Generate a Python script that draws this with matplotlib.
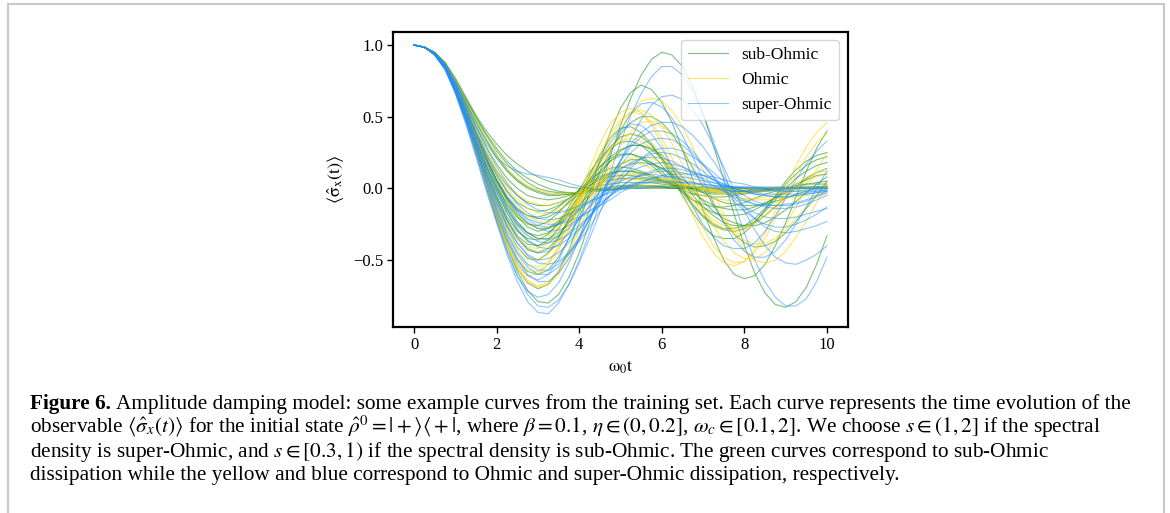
import matplotlib
matplotlib.use('Agg')
import matplotlib.pyplot as plt
from matplotlib.patches import Rectangle

# ---------------- data ----------------
t = [0, 0.25, 0.5, 0.75, 1, 1.25, 1.5, 1.75, 2, 2.25, 2.5, 2.75, 3, 3.25, 3.5, 3.75,
     4, 4.25, 4.5, 4.75, 5, 5.25, 5.5, 5.75, 6, 6.25, 6.5, 6.75, 7, 7.25, 7.5, 7.75,
     8, 8.25, 8.5, 8.75, 9, 9.25, 9.5, 9.75, 10]

# ---- sub-Ohmic (green) ----
sub_01 = [1, .985, .935, .84, .68, .48, .26, .03,
          -.20, -.40, -.58, -.71, -.79, -.80, -.74, -.62,
          -.45, -.24, -.01, .22, .44, .63, .79, .90,
          .95, .93, .85, .71, .52, .30, .06, -.18,
          -.40, -.59, -.73, -.81, -.83, -.79, -.69, -.53,
          -.33]
sub_02 = [1, .985, .935, .84, .68, .48, .26, .03,
          -.20, -.40, -.56, -.66, -.70, -.67, -.58, -.43,
          -.24, -.03, .19, .39, .56, .67, .72, .69,
          .60, .46, .27, .06, -.15, -.34, -.50, -.60,
          -.63, -.61, -.53, -.40, -.24, -.06, .12, .28,
          .40]
sub_03 = [1, .985, .94, .85, .70, .52, .31, .10,
          -.10, -.27, -.41, -.49, -.50, -.45, -.35, -.21,
          -.06, .09, .23, .35, .42, .43, .39, .31,
          .20, .08, -.05, -.17, -.27, -.33, -.35, -.35,
          -.31, -.24, -.15, -.05, .05, .13, .19, .23,
          .25]
sub_04 = [1, .985, .94, .85, .71, .53, .33, .13,
          -.06, -.22, -.35, -.43, -.45, -.42, -.34, -.22,
          -.09, .05, .18, .29, .36, .38, .36, .30,
          .21, .10, -.01, -.11, -.19, -.25, -.28, -.28,
          -.26, -.21, -.14, -.06, .03, .10, .16, .20,
          .22]
sub_05 = [1, .985, .94, .855, .72, .55, .36, .16,
          -.02, -.17, -.29, -.37, -.40, -.38, -.33, -.24,
          -.13, -.01, .10, .19, .26, .30, .30, .27,
          .21, .13, .04, -.05, -.13, -.19, -.24, -.26,
          -.26, -.24, -.19, -.13, -.06, .01, .07, .11,
          .14]
sub_06 = [1, .985, .94, .86, .73, .57, .39, .20,
          .03, -.12, -.23, -.31, -.35, -.35, -.31, -.24,
          -.15, -.06, .03, .11, .17, .20, .20, .18,
          .14, .09, .03, -.03, -.08, -.12, -.14, -.15,
          -.15, -.13, -.10, -.07, -.03, .00, .03, .04,
          .05]
sub_07 = [1, .985, .95, .88, .77, .64, .51, .40,
          .31, .23, .17, .12, .08, .05, .03, .01,
          .00, -.01, -.01, -.01, .00, .00, .00, .00,
          0, 0, 0, 0, 0, 0, 0, 0,
          0, 0, 0, 0, 0, 0, 0, 0,
          0]
sub_08 = [1, .985, .945, .87, .75, .62, .49, .37,
          .26, .17, .10, .04, .00, -.02, -.03, -.03,
          -.03, -.02, -.01, .00, .01, .01, .01, .01,
          .01, .00, 0, 0, 0, 0, 0, 0,
          0, 0, 0, 0, 0, 0, 0, 0,
          0]
sub_09 = [1, .985, .945, .865, .74, .60, .46, .33,
          .21, .12, .05, .00, -.03, -.05, -.05, -.04,
          -.03, -.01, .00, .01, .02, .02, .02, .02,
          .02, .01, .01, .01, .00, 0, 0, 0,
          0, 0, 0, 0, 0, 0, 0, 0,
          0]
sub_10 = [1, .985, .945, .86, .73, .58, .43, .29,
          .17, .07, .00, -.05, -.07, -.08, -.07, -.05,
          -.03, .00, .02, .03, .04, .04, .04, .04,
          .03, .02, .02, .01, .00, .00, -.01, -.01,
          -.01, .00, 0, 0, 0, 0, 0, 0,
          0]
sub_11 = [1, .985, .94, .855, .72, .56, .40, .25,
          .12, .02, -.05, -.10, -.12, -.12, -.10, -.07,
          -.03, .01, .04, .06, .07, .07, .07, .06,
          .05, .03, .02, .01, .00, -.01, -.01, -.02,
          -.02, -.01, -.01, .00, 0, 0, 0, 0,
          0]
sub_12 = [1, .985, .94, .85, .71, .54, .36, .19,
          .05, -.07, -.15, -.19, -.20, -.18, -.13, -.07,
          -.01, .04, .08, .11, .12, .12, .10, .08,
          .06, .03, .01, -.01, -.03, -.04, -.04, -.04,
          -.03, -.02, -.01, .00, .00, .00, .00, .01,
          .01]
sub_13 = [1, .985, .94, .85, .71, .53, .34, .16,
          .01, -.11, -.20, -.25, -.26, -.23, -.17, -.09,
          -.01, .06, .11, .14, .15, .14, .12, .09,
          .05, .02, -.01, -.04, -.05, -.06, -.06, -.05,
          -.04, -.03, -.02, -.01, .00, .00, .01, .01,
          .01]
sub_14 = [1, .985, .94, .86, .74, .58, .40, .22,
          .05, -.09, -.20, -.27, -.30, -.28, -.23, -.15,
          -.06, .04, .12, .19, .23, .24, .22, .18,
          .12, .05, -.02, -.08, -.13, -.17, -.19, -.19,
          -.18, -.15, -.11, -.06, -.02, .03, .06, .09,
          .10]
sub_15 = [1, .985, .94, .855, .73, .56, .38, .19,
          .01, -.14, -.25, -.31, -.33, -.31, -.25, -.16,
          -.05, .06, .15, .22, .27, .30, .30, .28,
          .23, .16, .08, -.01, -.09, -.16, -.21, -.24,
          -.26, -.26, -.24, -.20, -.15, -.09, -.03, .03,
          .08]
sub_16 = [1, .985, .94, .855, .72, .56, .39, .23,
          .09, -.02, -.10, -.14, -.16, -.15, -.12, -.07,
          -.02, .02, .06, .08, .09, .09, .08, .07,
          .05, .03, .01, .00, -.01, -.02, -.02, -.02,
          -.02, -.01, -.01, .00, 0, 0, 0, 0,
          0]
sub_17 = [1, .985, .95, .875, .76, .63, .50, .38,
          .28, .19, .12, .07, .03, .00, -.02, -.03,
          -.03, -.02, -.02, -.01, .00, .01, .01, .01,
          .01, 0, 0, 0, 0, 0, 0, 0,
          0, 0, 0, 0, 0, 0, 0, 0,
          0]
sub_18 = [1, .985, .945, .865, .745, .61, .47, .34,
          .23, .13, .06, .01, -.02, -.04, -.04, -.04,
          -.03, -.02, -.01, .00, .01, .02, .02, .02,
          .01, .01, .01, .00, 0, 0, 0, 0,
          0, 0, 0, 0, 0, 0, 0, 0,
          0]
sub_19 = [1, .985, .94, .85, .715, .55, .37, .20,
          .06, -.06, -.14, -.19, -.21, -.20, -.16, -.10,
          -.04, .02, .07, .10, .12, .12, .11, .09,
          .07, .04, .02, .00, -.02, -.03, -.03, -.03,
          -.03, -.02, -.02, -.01, .00, .00, .00, .01,
          .01]
sub_20 = [1, .985, .935, .845, .70, .51, .31, .11,
          -.07, -.22, -.33, -.39, -.40, -.36, -.28, -.17,
          -.05, .06, .15, .21, .24, .24, .21, .16,
          .10, .03, -.03, -.08, -.11, -.13, -.13, -.12,
          -.10, -.07, -.04, -.02, .00, .02, .03, .03,
          .03]
sub_21 = [1, .985, .94, .85, .71, .53, .33, .13,
          -.05, -.20, -.30, -.35, -.36, -.32, -.24, -.13,
          -.01, .11, .21, .28, .32, .33, .30, .24,
          .16, .07, -.03, -.12, -.20, -.26, -.29, -.30,
          -.28, -.23, -.16, -.08, .00, .07, .12, .16,
          .18]
sub_22 = [1, .985, .94, .86, .73, .57, .39, .21,
          .05, -.08, -.18, -.24, -.28, -.28, -.25, -.19,
          -.12, -.04, .03, .09, .14, .17, .18, .17,
          .14, .10, .06, .01, -.03, -.07, -.10, -.11,
          -.12, -.12, -.11, -.09, -.07, -.04, -.02, .00,
          .02]
sub_23 = [1, .985, .935, .84, .69, .49, .27, .05,
          -.17, -.36, -.50, -.58, -.60, -.57, -.48, -.35,
          -.20, -.04, .12, .26, .38, .46, .50, .50,
          .46, .38, .27, .14, .01, -.12, -.23, -.32,
          -.38, -.41, -.40, -.37, -.31, -.23, -.14, -.05,
          .05]

# ---- Ohmic (yellow) ----
ohm_01 = [1, .985, .935, .84, .68, .48, .26, .03,
          -.19, -.39, -.54, -.64, -.68, -.66, -.58, -.45,
          -.29, -.11, .08, .26, .41, .53, .61, .63,
          .61, .54, .43, .29, .13, -.03, -.18, -.32,
          -.43, -.50, -.52, -.50, -.44, -.34, -.23, -.10,
          .02]
ohm_02 = [1, .985, .935, .84, .68, .48, .25, .02,
          -.21, -.40, -.54, -.61, -.60, -.53, -.40, -.23,
          -.05, .14, .31, .45, .53, .56, .53, .44,
          .31, .15, -.02, -.19, -.34, -.45, -.52, -.54,
          -.51, -.43, -.31, -.16, .00, .16, .29, .39,
          .46]
ohm_03 = [1, .985, .935, .845, .69, .50, .28, .06,
          -.16, -.35, -.49, -.57, -.58, -.53, -.43, -.28,
          -.11, .07, .24, .38, .48, .53, .52, .46,
          .35, .21, .05, -.12, -.27, -.40, -.48, -.52,
          -.51, -.45, -.35, -.21, -.06, .09, .22, .32,
          .38]
ohm_04 = [1, .985, .935, .845, .69, .50, .29, .07,
          -.14, -.32, -.45, -.53, -.55, -.51, -.42, -.29,
          -.13, .04, .20, .35, .46, .53, .55, .51,
          .43, .31, .17, .02, -.13, -.26, -.37, -.45,
          -.49, -.49, -.45, -.37, -.26, -.13, .00, .13,
          .24]
ohm_05 = [1, .985, .935, .845, .70, .52, .32, .12,
          -.07, -.23, -.35, -.42, -.44, -.42, -.36, -.27,
          -.17, -.07, .03, .11, .17, .21, .22, .21,
          .18, .14, .10, .05, .01, -.02, -.04, -.06,
          -.07, -.08, -.08, -.07, -.07, -.06, -.05, -.05,
          -.04]
ohm_06 = [1, .985, .94, .85, .72, .55, .36, .17,
          .00, -.15, -.26, -.33, -.35, -.33, -.27, -.18,
          -.09, .00, .08, .14, .17, .18, .17, .14,
          .10, .06, .02, -.02, -.05, -.07, -.08, -.09,
          -.08, -.07, -.06, -.04, -.02, -.01, .00, .01,
          .02]
ohm_07 = [1, .985, .94, .855, .72, .56, .38, .20,
          .04, -.09, -.19, -.25, -.28, -.27, -.22, -.15,
          -.07, .00, .05, .08, .10, .10, .10, .09,
          .07, .05, .03, .01, .00, -.01, -.02, -.03,
          -.03, -.03, -.02, -.02, -.01, -.01, .00, .00,
          .00]
ohm_08 = [1, .985, .945, .86, .735, .58, .41, .25,
          .11, .00, -.08, -.14, -.17, -.18, -.15, -.11,
          -.06, -.01, .03, .05, .06, .06, .06, .05,
          .05, .04, .03, .02, .01, .00, .00, -.01,
          -.01, 0, 0, 0, 0, 0, 0, 0,
          0]
ohm_09 = [1, .985, .945, .865, .75, .61, .48, .35,
          .24, .14, .07, .02, -.01, -.03, -.04, -.03,
          -.03, -.02, -.01, .00, .01, .02, .02, .02,
          .02, .01, .01, .01, .00, 0, 0, 0,
          0, 0, 0, 0, 0, 0, 0, 0,
          0]
ohm_10 = [1, .985, .93, .835, .67, .47, .25, .02,
          -.21, -.41, -.56, -.65, -.69, -.67, -.60, -.48,
          -.33, -.16, .01, .17, .30, .40, .46, .47,
          .44, .37, .27, .15, .02, -.10, -.21, -.30,
          -.36, -.39, -.38, -.35, -.29, -.21, -.13, -.05,
          .03]
ohm_11 = [1, .985, .94, .855, .725, .57, .41, .26,
          .13, .03, -.04, -.09, -.11, -.12, -.10, -.07,
          -.03, .01, .04, .06, .07, .07, .06, .05,
          .04, .03, .02, .01, .00, -.01, -.01, -.01,
          -.01, -.01, 0, 0, 0, 0, 0, 0,
          0]
ohm_12 = [1, .985, .935, .845, .70, .51, .31, .11,
          -.08, -.24, -.35, -.41, -.42, -.38, -.29, -.18,
          -.05, .08, .19, .28, .33, .35, .33, .28,
          .20, .11, .01, -.08, -.16, -.22, -.26, -.28,
          -.27, -.24, -.19, -.13, -.06, .00, .05, .08,
          .10]
ohm_13 = [1, .985, .935, .845, .70, .51, .30, .09,
          -.11, -.28, -.41, -.48, -.50, -.46, -.37, -.24,
          -.10, .04, .17, .28, .35, .38, .37, .32,
          .24, .14, .03, -.08, -.17, -.24, -.28, -.30,
          -.29, -.25, -.19, -.12, -.04, .03, .08, .11,
          .12]
ohm_14 = [1, .985, .94, .855, .725, .565, .39, .22,
          .08, -.04, -.13, -.19, -.23, -.24, -.21, -.16,
          -.10, -.04, .01, .05, .08, .10, .10, .09,
          .07, .05, .03, .01, -.01, -.02, -.03, -.03,
          -.03, -.02, -.02, -.01, .00, .00, .00, .00,
          .00]

# ---- super-Ohmic (blue) ----
sup_01 = [1, .985, .93, .83, .66, .45, .22, -.02,
          -.24, -.46, -.65, -.79, -.865, -.875, -.80, -.67,
          -.50, -.31, -.10, .11, .32, .51, .66, .78,
          .85, .85, .79, .68, .52, .33, .12, -.10,
          -.31, -.50, -.65, -.76, -.82, -.82, -.77, -.65,
          -.48]
sup_02 = [1, .985, .93, .83, .67, .47, .24, .01,
          -.22, -.43, -.61, -.74, -.82, -.83, -.78, -.67,
          -.52, -.35, -.17, .01, .19, .35, .48, .58,
          .64, .65, .62, .55, .44, .30, .15, -.01,
          -.16, -.29, -.40, -.48, -.52, -.53, -.50, -.46,
          -.40]
sup_03 = [1, .985, .935, .84, .68, .49, .28, .06,
          -.15, -.34, -.49, -.60, -.65, -.65, -.59, -.49,
          -.36, -.22, -.08, .05, .16, .25, .31, .34,
          .35, .34, .30, .24, .16, .08, .00, -.07,
          -.13, -.17, -.20, -.21, -.21, -.20, -.18, -.16,
          -.14]
sup_04 = [1, .985, .93, .83, .67, .47, .24, .00,
          -.23, -.44, -.61, -.72, -.76, -.74, -.66, -.52,
          -.35, -.15, .05, .24, .40, .52, .59, .60,
          .57, .49, .37, .22, .06, -.10, -.24, -.36,
          -.44, -.48, -.48, -.44, -.36, -.25, -.13, .00,
          .12]
sup_05 = [1, .985, .935, .84, .69, .50, .30, .09,
          -.10, -.26, -.38, -.46, -.50, -.49, -.45, -.38,
          -.29, -.19, -.09, .01, .09, .16, .21, .24,
          .25, .24, .21, .17, .12, .06, .01, -.04,
          -.08, -.11, -.13, -.14, -.14, -.13, -.11, -.08,
          -.05]
sup_06 = [1, .985, .94, .85, .70, .52, .33, .14,
          -.03, -.17, -.28, -.36, -.41, -.42, -.40, -.35,
          -.28, -.20, -.12, -.05, .01, .06, .09, .11,
          .12, .12, .11, .09, .07, .04, .02, .00,
          -.02, -.03, -.04, -.04, -.04, -.04, -.03, -.02,
          -.01]
sup_07 = [1, .985, .94, .855, .72, .55, .37, .20,
          .05, -.07, -.17, -.24, -.28, -.30, -.29, -.26,
          -.21, -.16, -.10, -.05, -.01, .02, .05, .07,
          .08, .08, .08, .07, .05, .04, .02, .01,
          .00, -.01, -.01, -.02, -.02, -.02, -.01, -.01,
          .00]
sup_08 = [1, .985, .945, .86, .73, .57, .40, .24,
          .10, -.02, -.11, -.17, -.21, -.22, -.21, -.18,
          -.14, -.10, -.06, -.02, .01, .03, .04, .05,
          .05, .05, .04, .04, .03, .02, .01, .01,
          .00, .00, 0, 0, 0, 0, 0, 0,
          0]
sup_09 = [1, .985, .945, .865, .745, .60, .44, .31,
          .215, .155, .12, .10, .09, .075, .06, .035,
          .015, .00, -.01, -.01, -.01, .00, .00, .01,
          .01, .01, .01, .01, .01, .01, .01, .01,
          .01, .01, .01, .01, .01, .01, .01, .01,
          .01]
sup_10 = [1, .985, .935, .845, .70, .51, .31, .11,
          -.07, -.22, -.34, -.42, -.45, -.44, -.39, -.31,
          -.22, -.12, -.02, .06, .13, .18, .21, .22,
          .21, .19, .15, .11, .06, .02, -.02, -.06,
          -.09, -.11, -.12, -.12, -.11, -.10, -.08, -.05,
          -.02]
sup_11 = [1, .985, .935, .84, .68, .49, .28, .07,
          -.14, -.32, -.46, -.55, -.60, -.60, -.55, -.46,
          -.35, -.21, -.07, .07, .19, .29, .36, .40,
          .40, .38, .33, .26, .17, .08, -.01, -.09,
          -.16, -.21, -.25, -.27, -.27, -.25, -.22, -.18,
          -.13]
sup_12 = [1, .985, .94, .855, .72, .56, .38, .21,
          .06, -.06, -.15, -.21, -.24, -.25, -.25, -.23,
          -.20, -.16, -.12, -.08, -.03, .01, .04, .07,
          .09, .10, .10, .10, .09, .08, .06, .04,
          .03, .01, .00, -.01, -.02, -.02, -.02, -.02,
          -.01]
sup_13 = [1, .985, .945, .865, .74, .59, .43, .28,
          .15, .04, -.05, -.11, -.15, -.17, -.17, -.15,
          -.12, -.09, -.06, -.03, .00, .02, .03, .04,
          .04, .04, .04, .03, .03, .02, .02, .01,
          .01, .00, 0, 0, 0, 0, 0, 0,
          0]
sup_14 = [1, .985, .935, .84, .68, .49, .27, .04,
          -.18, -.37, -.52, -.61, -.64, -.60, -.50, -.35,
          -.17, .02, .19, .32, .41, .45, .44, .38,
          .28, .15, .01, -.13, -.25, -.34, -.40, -.42,
          -.42, -.38, -.30, -.19, -.07, .06, .17, .26,
          .33]
sup_15 = [1, .985, .94, .85, .71, .53, .34, .16,
          .00, -.14, -.24, -.31, -.35, -.36, -.33, -.28,
          -.21, -.13, -.06, .01, .07, .12, .15, .17,
          .18, .17, .15, .12, .09, .06, .03, .00,
          -.02, -.04, -.05, -.06, -.06, -.05, -.04, -.03,
          -.02]
sup_16 = [1, .985, .935, .845, .695, .51, .31, .11,
          -.08, -.25, -.38, -.47, -.52, -.53, -.51, -.45,
          -.37, -.27, -.16, -.05, .05, .14, .21, .26,
          .28, .28, .26, .22, .17, .11, .05, -.01,
          -.05, -.09, -.11, -.12, -.12, -.11, -.09, -.06,
          -.03]
sup_17 = [1, .985, .94, .85, .71, .53, .34, .16,
          -.01, -.15, -.26, -.33, -.37, -.38, -.36, -.32,
          -.26, -.19, -.12, -.05, .01, .06, .10, .12,
          .14, .14, .13, .11, .09, .06, .03, .00,
          -.02, -.04, -.05, -.06, -.06, -.05, -.04, -.03,
          -.02]
sup_18 = [1, .985, .94, .855, .725, .56, .38, .21,
          .06, -.06, -.16, -.22, -.26, -.27, -.25, -.21,
          -.15, -.09, -.04, .01, .05, .08, .09, .10,
          .09, .08, .06, .04, .02, .00, -.01, -.02,
          -.02, -.02, -.02, -.01, -.01, .00, .00, .00,
          .00]
sup_19 = [1, .985, .935, .84, .685, .495, .29, .08,
          -.12, -.30, -.44, -.53, -.57, -.57, -.53, -.45,
          -.34, -.21, -.07, .07, .20, .31, .39, .44,
          .46, .46, .43, .37, .29, .19, .08, -.03,
          -.13, -.21, -.27, -.30, -.31, -.30, -.28, -.26,
          -.23]

sub_curves = {'sub_01': sub_01, 'sub_02': sub_02, 'sub_03': sub_03, 'sub_04': sub_04,
              'sub_05': sub_05, 'sub_06': sub_06, 'sub_07': sub_07, 'sub_08': sub_08,
              'sub_09': sub_09, 'sub_10': sub_10, 'sub_11': sub_11, 'sub_12': sub_12,
              'sub_13': sub_13, 'sub_14': sub_14, 'sub_15': sub_15, 'sub_16': sub_16,
              'sub_17': sub_17, 'sub_18': sub_18, 'sub_19': sub_19, 'sub_20': sub_20,
              'sub_21': sub_21, 'sub_22': sub_22, 'sub_23': sub_23}
ohm_curves = {'ohm_01': ohm_01, 'ohm_02': ohm_02, 'ohm_03': ohm_03, 'ohm_04': ohm_04,
              'ohm_05': ohm_05, 'ohm_06': ohm_06, 'ohm_07': ohm_07, 'ohm_08': ohm_08,
              'ohm_09': ohm_09, 'ohm_10': ohm_10, 'ohm_11': ohm_11, 'ohm_12': ohm_12,
              'ohm_13': ohm_13, 'ohm_14': ohm_14}
sup_curves = {'sup_01': sup_01, 'sup_02': sup_02, 'sup_03': sup_03, 'sup_04': sup_04,
              'sup_05': sup_05, 'sup_06': sup_06, 'sup_07': sup_07, 'sup_08': sup_08,
              'sup_09': sup_09, 'sup_10': sup_10, 'sup_11': sup_11, 'sup_12': sup_12,
              'sup_13': sup_13, 'sup_14': sup_14, 'sup_15': sup_15, 'sup_16': sup_16,
              'sup_17': sup_17, 'sup_18': sup_18, 'sup_19': sup_19}

legend_labels = ['sub-Ohmic', 'Ohmic', 'super-Ohmic']
x_ticks = [0, 2, 4, 6, 8, 10]
y_ticks = [-0.5, 0.0, 0.5, 1.0]

caption_bold = 'Figure 6.'
caption_lines = [
    'Amplitude damping model: some example curves from the training set. Each curve represents the time evolution of the',
    r'observable $\langle\hat{\sigma}_x(t)\rangle$ for the initial state $\hat{\rho}^0=|+\rangle\langle+|$, where $\beta=0.1$, '
    r'$\eta\in(0,0.2]$, $\omega_c\in[0.1,2]$. We choose $s\in(1,2]$ if the spectral',
    r'density is super-Ohmic, and $s\in[0.3,1)$ if the spectral density is sub-Ohmic. The green curves correspond to sub-Ohmic',
    'dissipation while the yellow and blue correspond to Ohmic and super-Ohmic dissipation, respectively.',
]

# ---------------- style ----------------
plt.rcParams['font.family'] = ['Liberation Serif', 'DejaVu Serif']
plt.rcParams['mathtext.fontset'] = 'stix'

GREEN = '#2a962a'
YELLOW = '#ffd400'
BLUE = '#1e8cff'

W, H = 1170, 513
fig = plt.figure(figsize=(W / 100, H / 100), dpi=100)
ax = fig.add_axes([393.4 / W, 1 - 326.7 / H, (847.6 - 393.4) / W, (326.7 - 31.7) / H])

bad = []


def draw(group, color, alpha, label):
    first = True
    for name, c in group.items():
        n = min(len(c), len(t))
        if len(c) != len(t):
            bad.append(name)
        ax.plot(t[:n], c[:n], color=color, lw=0.8, alpha=alpha, label=label if first else None)
        first = False


draw(sub_curves, GREEN, 0.6, legend_labels[0])
draw(ohm_curves, YELLOW, 0.6, legend_labels[1])
draw(sup_curves, BLUE, 0.5, legend_labels[2])

ax.set_xlim(-0.5, 10.5)
ax.set_ylim(-0.965, 1.093)
ax.set_xticks(x_ticks)
ax.set_yticks(y_ticks)
ax.tick_params(labelsize=12, length=4, width=1.0)
for s in ax.spines.values():
    s.set_linewidth(1.6)
ax.set_xlabel(r'$\mathrm{\omega_0 t}$', fontsize=13)
ax.set_ylabel(r'$\langle\hat{\mathrm{\sigma}}_\mathrm{x}(\mathrm{t})\rangle$', fontsize=13)
ax.legend(loc='upper right', fontsize=12.5, handlelength=2.3)

if bad:
    fig.text(0.02, 0.5, 'BAD LENGTH: ' + ', '.join(bad), color='red', fontsize=14)

# figure border
fig.add_artist(Rectangle((7.5 / W, -0.05), (1163.5 - 7.5) / W, 1.05 - 3.7 / H,
                         transform=fig.transFigure, fill=False, ec='#c8c8c8', lw=1.5))

# caption
x0 = 30 / W
baselines = [409, 433, 457, 480]
fs = 14
txt_b = fig.text(x0, 1 - baselines[0] / H, caption_bold, fontsize=fs, fontweight='bold', va='baseline')
texts = [fig.text(x0, 1 - y / H, s, fontsize=fs, va='baseline') for s, y in zip(caption_lines, baselines)]
r = fig.canvas.get_renderer()
wb = txt_b.get_window_extent(r).width
w1 = texts[0].get_window_extent(r).width
target = 1103.0
fs2 = fs * target / (wb + w1 + 0.25 * fs * 1.389)
txt_b.set_fontsize(fs2)
for tx in texts:
    tx.set_fontsize(fs2)
wb = txt_b.get_window_extent(r).width
texts[0].set_x(x0 + (wb + 0.25 * fs2 * 1.389) / W)

fig.savefig('out.png', dpi=100)
